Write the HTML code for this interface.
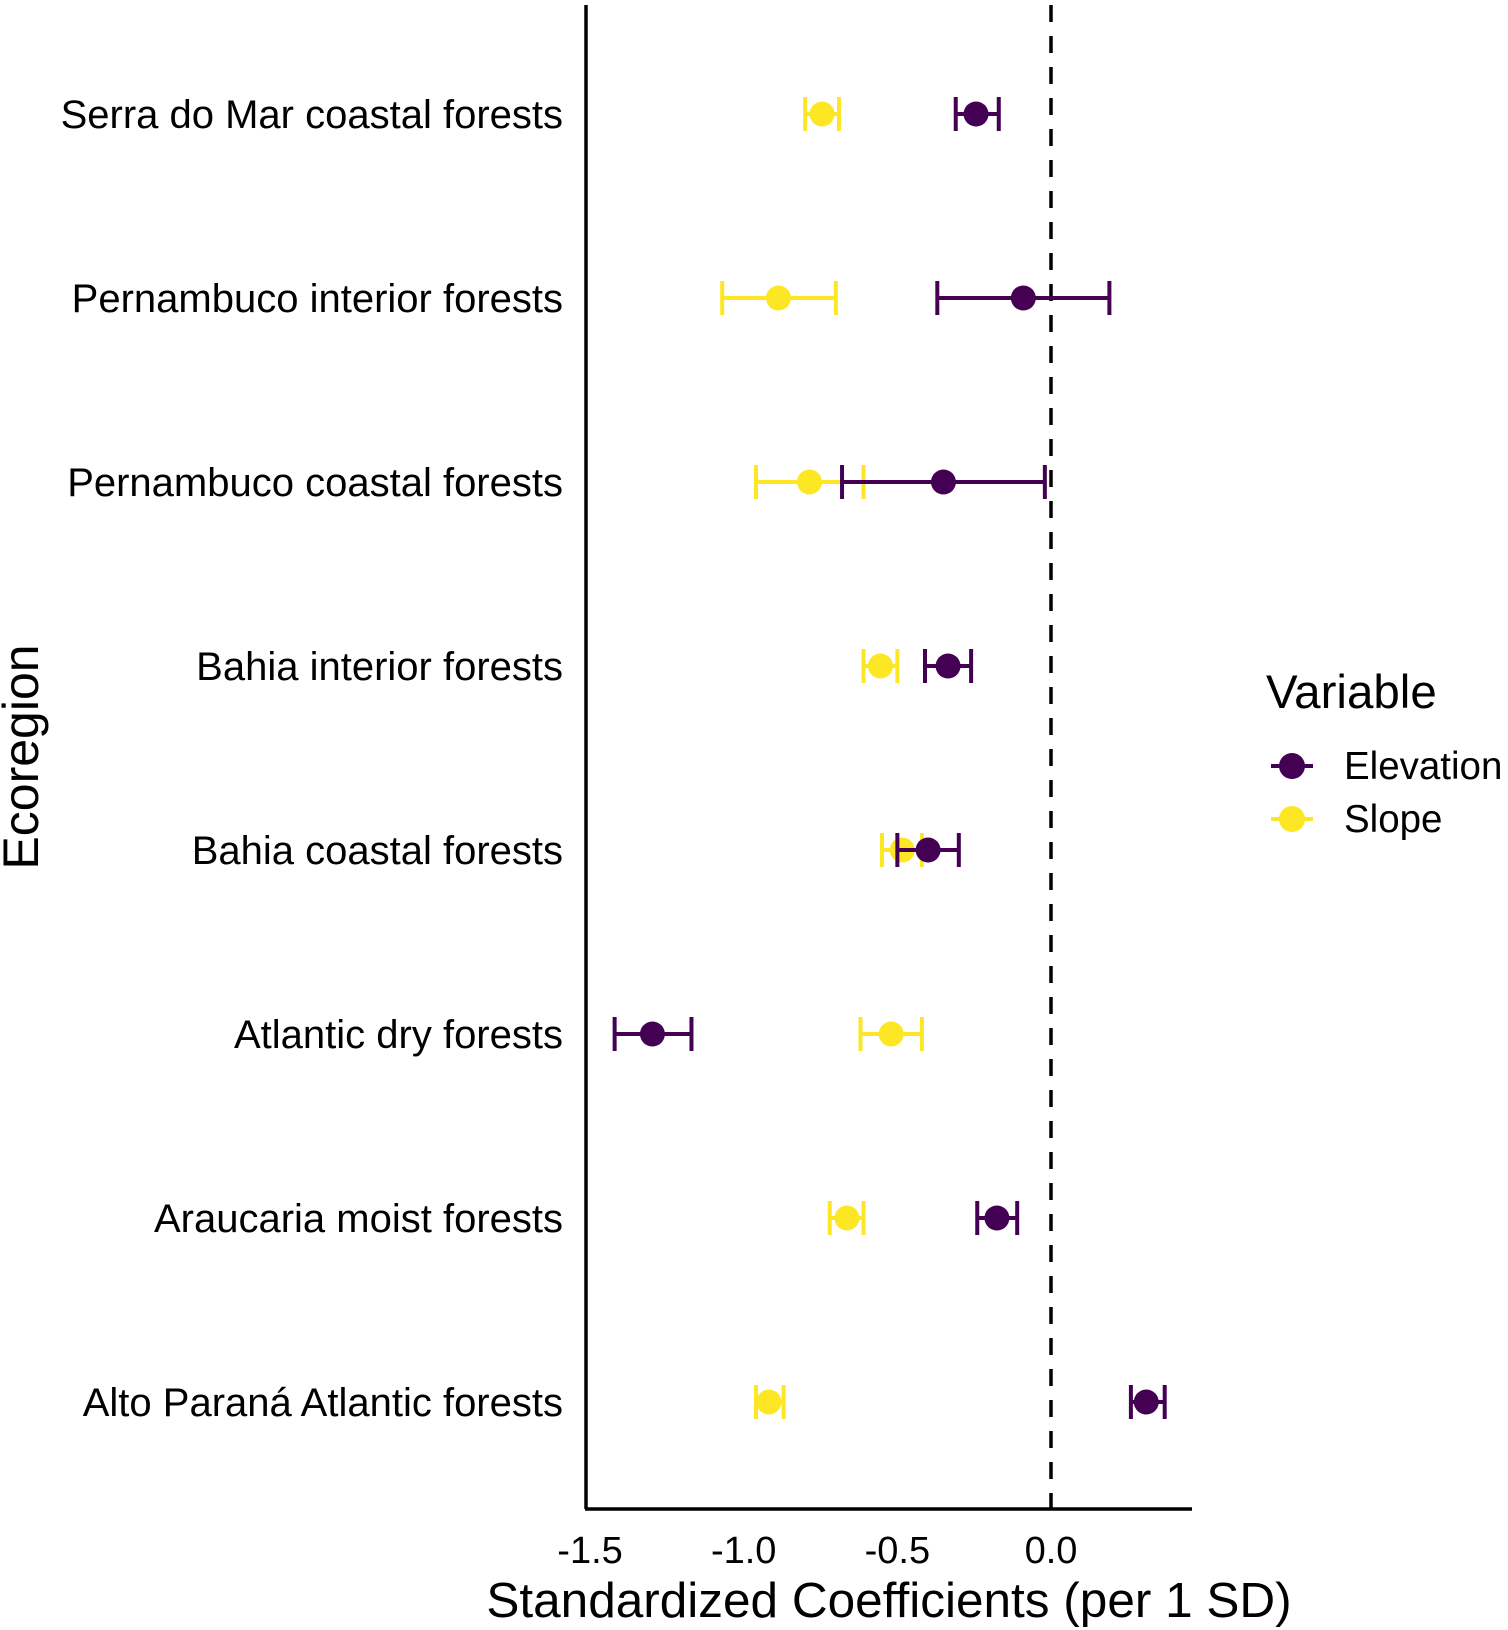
<!DOCTYPE html>
<html><head><meta charset="utf-8"><style>
html,body{margin:0;padding:0;background:#fff;}
svg{display:block;font-family:"Liberation Sans",Arial,sans-serif;}
</style></head><body>
<svg id="chart" width="1508" height="1630" viewBox="0 0 1508 1630">
<g id="plot"></g>
<text x="38" y="757" font-size="50" text-anchor="middle" transform="rotate(-90 38 757)">Ecoregion</text>
<text x="889" y="1617" font-size="49.5" text-anchor="middle">Standardized Coefficients (per 1 SD)</text>
<g>
<text x="1266" y="708" font-size="47.5">Variable</text>
<g>
<line x1="1271" y1="766" x2="1313" y2="766" stroke="#440154" stroke-width="4"/>
<circle cx="1292" cy="766" r="13" fill="#440154"/>
<text x="1344" y="779" font-size="38.5">Elevation</text></g>
<g>
<line x1="1271" y1="819" x2="1313" y2="819" stroke="#FDE725" stroke-width="4"/>
<circle cx="1292" cy="819" r="13" fill="#FDE725"/>
<text x="1344" y="832" font-size="38.5">Slope</text></g>
</g>
</svg>
<script>
const categories=["Serra do Mar coastal forests","Pernambuco interior forests","Pernambuco coastal forests","Bahia interior forests","Bahia coastal forests","Atlantic dry forests","Araucaria moist forests","Alto Paraná Atlantic forests"];
const slopeEst=[-0.745,-0.887,-0.786,-0.555,-0.484,-0.52,-0.664,-0.918];
const slopeLo=[-0.80,-1.07,-0.96,-0.61,-0.55,-0.62,-0.72,-0.96];
const slopeHi=[-0.69,-0.70,-0.61,-0.50,-0.42,-0.42,-0.61,-0.87];
const elevEst=[-0.244,-0.09,-0.35,-0.335,-0.40,-1.297,-0.176,0.31];
const elevLo=[-0.31,-0.37,-0.68,-0.41,-0.50,-1.42,-0.24,0.26];
const elevHi=[-0.17,0.19,-0.02,-0.26,-0.30,-1.17,-0.11,0.37];
const xTicks=[-1.5,-1.0,-0.5,0.0];
const xTickLabels=["-1.5","-1.0","-0.5","0.0"];
const NS="http://www.w3.org/2000/svg";
const g=document.getElementById('plot');
const x=v=>1051+v*307.3;
const y=i=>114+i*184;
function mk(t,a,p){const e=document.createElementNS(NS,t);for(const k in a)e.setAttribute(k,a[k]);(p||g).appendChild(e);return e;}
let ax=mk('line',{x1:586,y1:5,x2:586,y2:1509,stroke:'#000','stroke-width':3.5});


let bx=mk('line',{x1:585,y1:1509,x2:1192,y2:1509,stroke:'#000','stroke-width':3.5});


let zl=mk('line',{x1:x(0),y1:5,x2:x(0),y2:1508,stroke:'#000','stroke-width':3.5,'stroke-dasharray':'17,14'});


xTicks.forEach((v,i)=>{const t=mk('text',{x:x(v),y:1563,'font-size':38,'text-anchor':'middle'});t.textContent=xTickLabels[i];

});
categories.forEach((c,i)=>{const t=mk('text',{x:563,y:y(i)+14,'font-size':40,'text-anchor':'end'});t.textContent=c;

});
function series(est,lo,hi,col,name){
 est.forEach((v,i)=>{const gg=mk('g',{});
 
 
 const yy=y(i);
 mk('line',{x1:x(lo[i]),y1:yy,x2:x(hi[i]),y2:yy,stroke:col,'stroke-width':4},gg);
 mk('line',{x1:x(lo[i]),y1:yy-17,x2:x(lo[i]),y2:yy+17,stroke:col,'stroke-width':4},gg);
 mk('line',{x1:x(hi[i]),y1:yy-17,x2:x(hi[i]),y2:yy+17,stroke:col,'stroke-width':4},gg);
 mk('circle',{cx:x(v),cy:yy,r:12.5,fill:col},gg);});
}
series(slopeEst,slopeLo,slopeHi,'#FDE725','slope');
series(elevEst,elevLo,elevHi,'#440154','elevation');
</script>
</body></html>
